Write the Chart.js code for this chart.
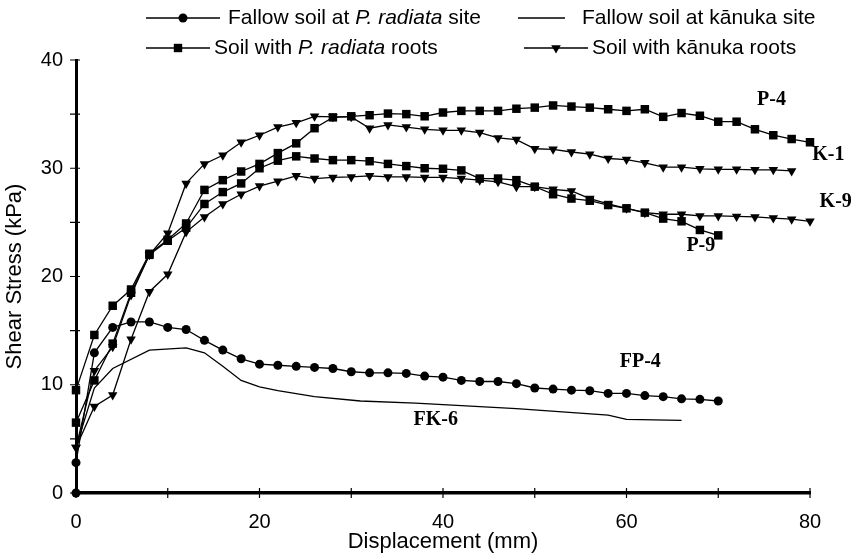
<!DOCTYPE html>
<html>
<head>
<meta charset="utf-8">
<script src="https://cdn.jsdelivr.net/npm/chart.js@4.4.0/dist/chart.umd.min.js"></script>
<style>
html, body { margin: 0; padding: 0; background: #fff; }
</style>
</head>
<body>
<canvas id="shear-stress" width="856" height="555"></canvas>
<script>
// displacement steps (mm) used by the root / fallow runs
const stepsMm = [0, 2, 4, 6, 8, 10, 12, 14, 16, 18, 20, 22, 24, 26, 28, 30, 32, 34, 36, 38,
    40, 42, 44, 46, 48, 50, 52, 54, 56, 58, 60, 62, 64, 66, 68, 70, 72, 74, 76, 78, 80];

// Soil with P. radiata roots
const p4Stress = [9.5, 14.6, 17.3, 18.8, 22.1, 23.4, 24.9, 28.0, 28.9, 29.7,
    30.4, 31.4, 32.3, 33.7, 34.7, 34.8, 34.9, 35.05, 35.0, 34.8,
    35.15, 35.3, 35.3, 35.3, 35.5, 35.6, 35.8, 35.7, 35.6, 35.45,
    35.3, 35.45, 34.75, 35.1, 34.85, 34.3, 34.3, 33.6, 33.05, 32.7, 32.4];
const p9Stress = [6.5, 10.4, 13.8, 18.5, 22.0, 23.3, 24.5, 26.7, 27.8, 28.6,
    30.0, 30.7, 31.1, 30.9, 30.75, 30.75, 30.65, 30.4, 30.2, 30.0,
    29.95, 29.8, 29.05, 29.05, 28.9, 28.3, 27.6, 27.2, 27.0, 26.6,
    26.3, 25.9, 25.35, 25.1, 24.3, 23.8];

// Soil with kanuka roots
const k1Stress = [4.2, 11.3, 13.5, 18.3, 22.0, 24.0, 28.6, 30.4, 31.2, 32.4,
    33.05, 33.8, 34.2, 34.8, 34.75, 34.75, 33.7, 34.0, 33.8, 33.6,
    33.5, 33.5, 33.3, 32.8, 32.65, 31.8, 31.75, 31.5, 31.3, 30.9,
    30.8, 30.5, 30.1, 30.1, 29.95, 29.9, 29.9, 29.85, 29.85, 29.75];
const k9Stress = [4.2, 8.0, 9.05, 14.2, 18.6, 20.2, 24.1, 25.5, 26.7, 27.6,
    28.35, 28.8, 29.3, 29.05, 29.15, 29.2, 29.3, 29.2, 29.2, 29.15,
    29.15, 29.05, 28.9, 28.75, 28.3, 28.3, 28.05, 27.9, 27.2, 26.7,
    26.3, 25.9, 25.75, 25.75, 25.6, 25.6, 25.55, 25.5, 25.4, 25.3, 25.1];

// Fallow soil at P. radiata site (two readings at 0 mm)
const fp4Mm = [0, 0, 2, 4, 6, 8, 10, 12, 14, 16, 18, 20, 22, 24, 26, 28, 30, 32, 34, 36,
    38, 40, 42, 44, 46, 48, 50, 52, 54, 56, 58, 60, 62, 64, 66, 68, 70];
const fp4Stress = [0, 2.8, 12.95, 15.3, 15.8, 15.8, 15.3, 15.1, 14.1, 13.2, 12.4, 11.9,
    11.8, 11.7, 11.6, 11.5, 11.2, 11.1, 11.1, 11.05, 10.8, 10.7, 10.4, 10.3, 10.3,
    10.1, 9.7, 9.6, 9.5, 9.45, 9.2, 9.2, 9.0, 8.9, 8.7, 8.65, 8.5];

// Fallow soil at kanuka site (plain line)
const fk6Mm = [0, 2, 4, 8, 12, 14, 16, 18, 20, 22, 26, 31, 37, 48, 58, 60, 66];
const fk6Stress = [4.2, 9.7, 11.5, 13.2, 13.4, 12.95, 11.7, 10.4, 9.8, 9.45, 8.9, 8.5, 8.3, 7.8, 7.2, 6.8, 6.7];

// curve labels, placed in data units
const curveNames = ["P-4", "K-1", "K-9", "P-9", "FP-4", "FK-6"];
const curveNameMm = [75.8, 82.0, 82.8, 68.1, 61.5, 39.2];
const curveNameKpa = [36.3, 31.2, 26.9, 22.8, 12.1, 6.8];

const toPoints = (xs, ys) => ys.map((y, i) => ({ x: xs[i], y: y }));

function series(label, xs, ys, pointStyle, radius) {
    return {
        label: label,
        data: toPoints(xs, ys),
        borderColor: "#000",
        backgroundColor: "#000",
        borderWidth: 1.3,
        pointStyle: pointStyle || "circle",
        pointRadius: radius,
        pointHoverRadius: radius,
        pointRotation: pointStyle === "triangle" ? 180 : 0,
        pointBorderWidth: 0,
        tension: 0,
        clip: false,
    };
}

const datasets = [
    series("P-4", stepsMm, p4Stress, "rect", 6),
    series("P-9", stepsMm, p9Stress, "rect", 6),
    series("K-1", stepsMm, k1Stress, "triangle", 5.5),
    series("K-9", stepsMm, k9Stress, "triangle", 5.5),
    series("FP-4", fp4Mm, fp4Stress, "circle", 4.5),
    series("FK-6", fk6Mm, fk6Stress, "circle", 0),
];

// legend drawn by hand: line sample + marker + mixed roman/italic text
const legendRows = [
    { y: 18, x0: 146, x1: 220, tx: 228, marker: "circle", parts: [["Fallow soil at ", false], ["P. radiata", true], [" site", false]] },
    { y: 48, x0: 146, x1: 210, tx: 214, marker: "rect", parts: [["Soil with ", false], ["P. radiata", true], [" roots", false]] },
    { y: 18, x0: 518, x1: 565, tx: 582, marker: null, parts: [["Fallow soil at kānuka site", false]] },
    { y: 48, x0: 524, x1: 588, tx: 592, marker: "triangle", parts: [["Soil with kānuka roots", false]] },
];

function drawMarker(ctx, style, x, y) {
    ctx.beginPath();
    if (style === "circle") {
        ctx.arc(x, y, 4.5, 0, Math.PI * 2);
    } else if (style === "rect") {
        ctx.rect(x - 4.2, y - 4.2, 8.4, 8.4);
    } else if (style === "triangle") {
        ctx.moveTo(x, y + 5.5);
        ctx.lineTo(x - 4.8, y - 2.75);
        ctx.lineTo(x + 4.8, y - 2.75);
        ctx.closePath();
    }
    ctx.fill();
}

const figureExtras = {
    id: "figureExtras",
    afterDraw(chart) {
        const ctx = chart.ctx;
        const xs = chart.scales.x;
        const ys = chart.scales.y;
        ctx.save();
        ctx.strokeStyle = "#000";
        ctx.fillStyle = "#000";

        // tick marks crossing the axes
        ctx.lineWidth = 1.2;
        ctx.beginPath();
        xs.ticks.forEach((t) => {
            const px = xs.getPixelForValue(t.value);
            ctx.moveTo(px, ys.bottom - 5);
            ctx.lineTo(px, ys.bottom + 5);
        });
        ys.ticks.forEach((t) => {
            const py = ys.getPixelForValue(t.value);
            ctx.moveTo(xs.left - 6, py);
            ctx.lineTo(xs.left + 4, py);
        });
        ctx.stroke();

        // legend
        ctx.textBaseline = "middle";
        ctx.textAlign = "left";
        legendRows.forEach((row) => {
            ctx.lineWidth = 1.3;
            ctx.beginPath();
            ctx.moveTo(row.x0, row.y);
            ctx.lineTo(row.x1, row.y);
            ctx.stroke();
            if (row.marker) drawMarker(ctx, row.marker, (row.x0 + row.x1) / 2, row.y);
            let tx = row.tx;
            row.parts.forEach(([txt, italic]) => {
                ctx.font = (italic ? "italic " : "") + "21px 'Liberation Sans', Arial, sans-serif";
                ctx.fillText(txt, tx, row.y);
                tx += ctx.measureText(txt).width;
            });
        });

        // curve names
        ctx.font = "bold 20px 'Liberation Serif', 'Times New Roman', serif";
        ctx.textAlign = "center";
        curveNames.forEach((name, i) => {
            ctx.fillText(name, xs.getPixelForValue(curveNameMm[i]), ys.getPixelForValue(curveNameKpa[i]));
        });
        ctx.restore();
    },
};

const axisFont = { family: "'Liberation Sans', Arial, sans-serif", size: 20 };

new Chart(document.getElementById("shear-stress"), {
    type: "line",
    data: { datasets: datasets },
    options: {
        responsive: false,
        animation: false,
        devicePixelRatio: 1,
        layout: { padding: { top: 60, right: 46, left: 0, bottom: 0 } },
        plugins: {
            legend: { display: false },
            tooltip: { enabled: false },
        },
        scales: {
            x: {
                type: "linear",
                min: 0,
                max: 80,
                ticks: {
                    stepSize: 10,
                    color: "#000",
                    font: axisFont,
                    padding: 9,
                    maxRotation: 0,
                    callback: (v) => (v % 20 === 0 ? v : ""),
                },
                grid: { display: false },
                border: { display: true, color: "#000", width: 3.5 },
                title: {
                    display: true,
                    text: "Displacement (mm)",
                    color: "#000",
                    font: { family: axisFont.family, size: 22 },
                    padding: { top: 0, bottom: 0 },
                },
                afterFit: (scale) => { scale.height = 62; },
            },
            y: {
                min: 0,
                max: 40,
                ticks: {
                    stepSize: 5,
                    color: "#000",
                    font: axisFont,
                    padding: 5,
                    callback: (v) => (v % 10 === 0 ? v : ""),
                },
                grid: { display: false },
                border: { display: true, color: "#000", width: 3 },
                title: {
                    display: true,
                    text: "Shear Stress (kPa)",
                    color: "#000",
                    font: { family: axisFont.family, size: 22 },
                    padding: { top: 2, bottom: 0 },
                },
                afterFit: (scale) => { scale.width = 76; },
            },
        },
    },
    plugins: [figureExtras],
});
</script>
</body>
</html>
